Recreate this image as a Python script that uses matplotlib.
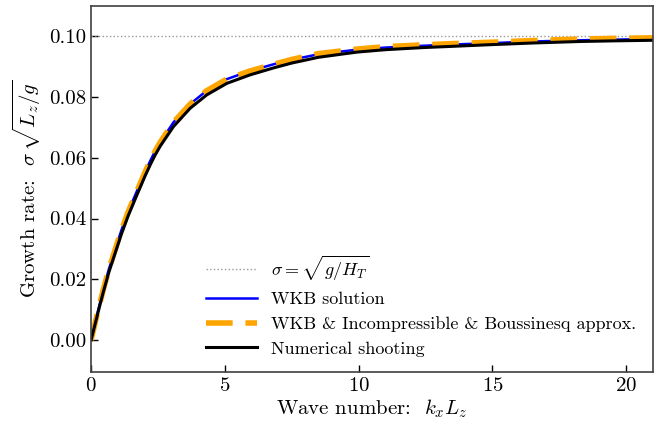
import numpy as np
import matplotlib
matplotlib.use("Agg")
import matplotlib.pyplot as plt

plt.rcParams["font.family"] = "serif"
plt.rcParams["font.serif"] = ["cmr10"]
plt.rcParams["mathtext.fontset"] = "cm"
plt.rcParams["axes.unicode_minus"] = False
plt.rcParams["axes.formatter.use_mathtext"] = True

# wave number grid (k_x L_z) and growth rates for the three methods
kx = [0, 0.26, 0.45, 0.66, 0.86, 1.13, 1.38, 1.69, 2.01, 2.21, 2.38, 2.58,
      3.08, 3.70, 4.32, 5.07, 5.94, 6.82, 7.5, 8.5, 9.93, 11.0, 12.42, 13.5,
      14.79, 16.5, 18.28, 19.5, 21.0]
growth_shoot = [0.0, 0.0091, 0.0156, 0.0222, 0.0276, 0.0348, 0.0408, 0.0473,
                0.0539, 0.0577, 0.0607, 0.0638, 0.0703, 0.0763, 0.0807,
                0.0845, 0.0873, 0.0896, 0.0912, 0.0931, 0.0948, 0.0956,
                0.0963, 0.0967, 0.0972, 0.0978, 0.0983, 0.0985, 0.0987]
growth_wkb = [0.0, 0.0097, 0.0164, 0.0232, 0.0287, 0.0361, 0.0421, 0.0486,
              0.0552, 0.0590, 0.0620, 0.0651, 0.0717, 0.0777, 0.0821,
              0.0859, 0.0886, 0.0908, 0.0923, 0.0941, 0.0956, 0.0963,
              0.0969, 0.0973, 0.0977, 0.0983, 0.0987, 0.0989, 0.0991]
growth_approx = [0.0, 0.0097, 0.0164, 0.0232, 0.0287, 0.0361, 0.0421, 0.0486,
                 0.0552, 0.0590, 0.0620, 0.0651, 0.0717, 0.0777, 0.0821,
                 0.0859, 0.0886, 0.0908, 0.0924, 0.0943, 0.0958, 0.0966,
                 0.0972, 0.0976, 0.0980, 0.0986, 0.0991, 0.0993, 0.0995]
sigma_max = 0.1  # sqrt(g/H_T) in these units

fig = plt.figure(figsize=(6.65, 4.25), dpi=100)
ax = fig.add_subplot(1, 1, 1)
fig.subplots_adjust(left=0.137, right=0.982, top=0.986, bottom=0.125)

ax.axhline(sigma_max, color="0.6", linestyle=":", linewidth=1.0,
           label=r"$\sigma=\sqrt{g/H_T}$")
ax.plot(kx, growth_wkb, color="blue", linewidth=1.8, label="WKB solution",
        solid_joinstyle="round")
ax.plot(kx, growth_approx, color="orange", linewidth=4.0, dashes=(4.8, 2.3),
        label="WKB & Incompressible & Boussinesq approx.")
ax.plot(kx, growth_shoot, color="black", linewidth=2.2,
        label="Numerical shooting", solid_joinstyle="round")

ax.set_xlim(0, 21)
ax.set_ylim(-0.0105, 0.11)
ax.set_xticks([0, 5, 10, 15, 20])
ax.set_yticks([0.0, 0.02, 0.04, 0.06, 0.08, 0.10])
ax.yaxis.set_major_formatter(plt.FormatStrFormatter("%.2f"))
ax.tick_params(direction="in", length=5, width=1, labelsize=15,
               top=False, right=False)
for sp in ax.spines.values():
    sp.set_color("0.25")
    sp.set_linewidth(1.2)

ax.set_xlabel(r"Wave number:  $k_xL_z$", fontsize=15, labelpad=2)
ax.set_ylabel(r"Growth rate:  $\sigma\,\sqrt{L_z/g}$", fontsize=15)

ax.legend(loc="lower left", bbox_to_anchor=(0.176, -0.003), frameon=False,
          fontsize=13, handlelength=2.8, labelspacing=0.5)

fig.savefig("out.png", dpi=100)
